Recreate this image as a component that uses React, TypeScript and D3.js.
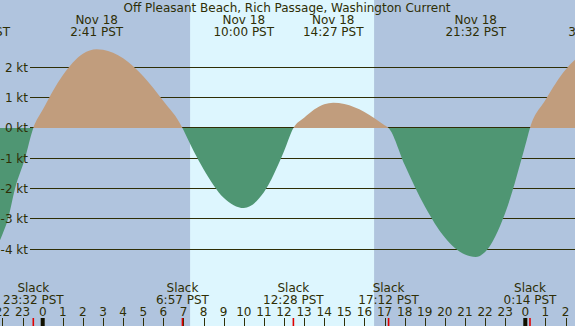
import React from "react";
import * as d3 from "d3";

const W = 575;
const H = 326;
const TITLE = "Off Pleasant Beach, Rich Passage, Washington Current";

// current speed (hours from Nov 18 00:00 PST, knots)
const sampleHours = [-3.13, -2.5, -2.123, -2, -1.726, -1.377, -0.88, -0.467, 0, 1, 2, 2.683, 3, 4, 5, 6, 6.95, 7, 8, 9, 10, 11, 12, 12.467, 13, 14, 14.45, 15, 16, 17, 17.2, 18, 19, 20, 21, 21.533, 22, 23, 24, 24.233, 25, 26, 27, 27.45];
const speedKt = [-4.4, -4.15, -3.7, -3.5, -3.0, -2.0, -1.0, 0, 0.6, 1.74, 2.45, 2.6, 2.58, 2.3, 1.71, 0.89, 0, -0.07, -1.36, -2.3, -2.64, -2.12, -0.77, 0, 0.34, 0.78, 0.83, 0.79, 0.53, 0.09, 0, -1.21, -2.58, -3.61, -4.17, -4.25, -4.09, -2.8, -0.57, 0, 0.92, 1.92, 2.48, 2.55];

// max flood / max ebb labels (top); dates of off-screen edge labels are not visible
const peakHours = [-3.13, 2.683, 10.0, 14.45, 21.533, 27.45];
const peakDates = ["", "Nov 18", "Nov 18", "Nov 18", "Nov 18", ""];
const peakTimes = ["20:52 PST", "2:41 PST", "10:00 PST", "14:27 PST", "21:32 PST", "3:27 PST"];

// slack labels (bottom)
const slackHours = [-0.467, 6.95, 12.467, 17.2, 24.233];
const slackTimes = ["23:32 PST", "6:57 PST", "12:28 PST", "17:12 PST", "0:14 PST"];

const sunriseHour = 7.33;
const sunsetHour = 16.48;

const yTicks = [2, 1, 0, -1, -2, -3, -4];
const hourTicks = d3.range(-2, 27);
const midnightHours = [0, 24];

const COL_NIGHT = "#b0c4de";
const COL_DAY = "#ddf6fe";
const COL_FLOOD = "#c19d7d";
const COL_EBB = "#4f9673";
const COL_TEXT = "#2e2e05";
const COL_LINE = "#2e2e05";
const COL_RED = "#e00000";
const FONT = "'DejaVu Sans', sans-serif";

export default function App() {
  const x = d3.scaleLinear().domain([0, 24]).range([42.7, 525.3]);
  const y = d3.scaleLinear().domain([-4, 2]).range([249.33, 67.33]);
  const y0 = y(0);

  const pts: [number, number][] = sampleHours.map((h, i) => [h, speedKt[i]]);
  const area = d3
    .area<[number, number]>()
    .x((d) => x(d[0]))
    .y0(y0)
    .y1((d) => y(d[1]))
    .curve(d3.curveMonotoneX);
  const areaPath = area(pts) || "";

  return (
    <svg
      width={W}
      height={H}
      style={{ position: "fixed", left: 0, top: 0, display: "block" }}
      fontFamily={FONT}
      fontSize={12}
    >
      <defs>
        <clipPath id="floodClip">
          <rect x={0} y={0} width={W} height={y0} />
        </clipPath>
        <clipPath id="ebbClip">
          <rect x={0} y={y0} width={W} height={H - y0} />
        </clipPath>
      </defs>
      <rect x={0} y={0} width={W} height={H} fill={COL_NIGHT} />
      <rect
        x={x(sunriseHour)}
        y={0}
        width={x(sunsetHour) - x(sunriseHour)}
        height={H}
        fill={COL_DAY}
      />
      {yTicks.map((v) => {
        const yy = Math.floor(y(v)) + 0.5;
        return (
          <line key={"yl" + v} x1={30} x2={W} y1={yy} y2={yy} stroke={COL_LINE} strokeWidth={1} />
        );
      })}
      <path d={areaPath} fill={COL_FLOOD} clipPath="url(#floodClip)" />
      <path d={areaPath} fill={COL_EBB} clipPath="url(#ebbClip)" />

      {yTicks.map((v) => {
        const yy = Math.floor(y(v)) + 0.5;
        return (
          <text key={"yt" + v} x={28} y={yy + 4.2} textAnchor="end" fill={COL_TEXT}>
            {v + " kt"}
          </text>
        );
      })}

      <text x={287} y={12} textAnchor="middle" fill={COL_TEXT}>
        {TITLE}
      </text>
      {peakHours.map((h, i) => (
        <g key={"pk" + i}>
          {peakDates[i] ? (
            <text x={x(h)} y={24} textAnchor="middle" fill={COL_TEXT}>
              {peakDates[i]}
            </text>
          ) : null}
          <text x={x(h)} y={36} textAnchor="middle" fill={COL_TEXT}>
            {peakTimes[i]}
          </text>
        </g>
      ))}
      {slackHours.map((h, i) => (
        <g key={"sl" + i}>
          <text x={x(h)} y={292} textAnchor="middle" fill={COL_TEXT}>
            Slack
          </text>
          <text x={x(h)} y={304} textAnchor="middle" fill={COL_TEXT}>
            {slackTimes[i]}
          </text>
        </g>
      ))}
      {hourTicks.map((h) => (
        <g key={"h" + h}>
          <text x={x(h)} y={316} textAnchor="middle" fill={COL_TEXT}>
            {String(((h % 24) + 24) % 24)}
          </text>
          <line
            x1={Math.round(x(h)) + 0.5}
            x2={Math.round(x(h)) + 0.5}
            y1={318}
            y2={H}
            stroke={COL_LINE}
            strokeWidth={1}
          />
        </g>
      ))}
      {midnightHours.map((h) => (
        <rect key={"m" + h} x={x(h) - 2} y={318} width={4} height={H - 318} fill="#111100" />
      ))}
      {slackHours.map((h, i) => (
        <line
          key={"sr" + i}
          x1={x(h)}
          x2={x(h)}
          y1={318}
          y2={H}
          stroke={COL_RED}
          strokeWidth={1.6}
        />
      ))}
    </svg>
  );
}
